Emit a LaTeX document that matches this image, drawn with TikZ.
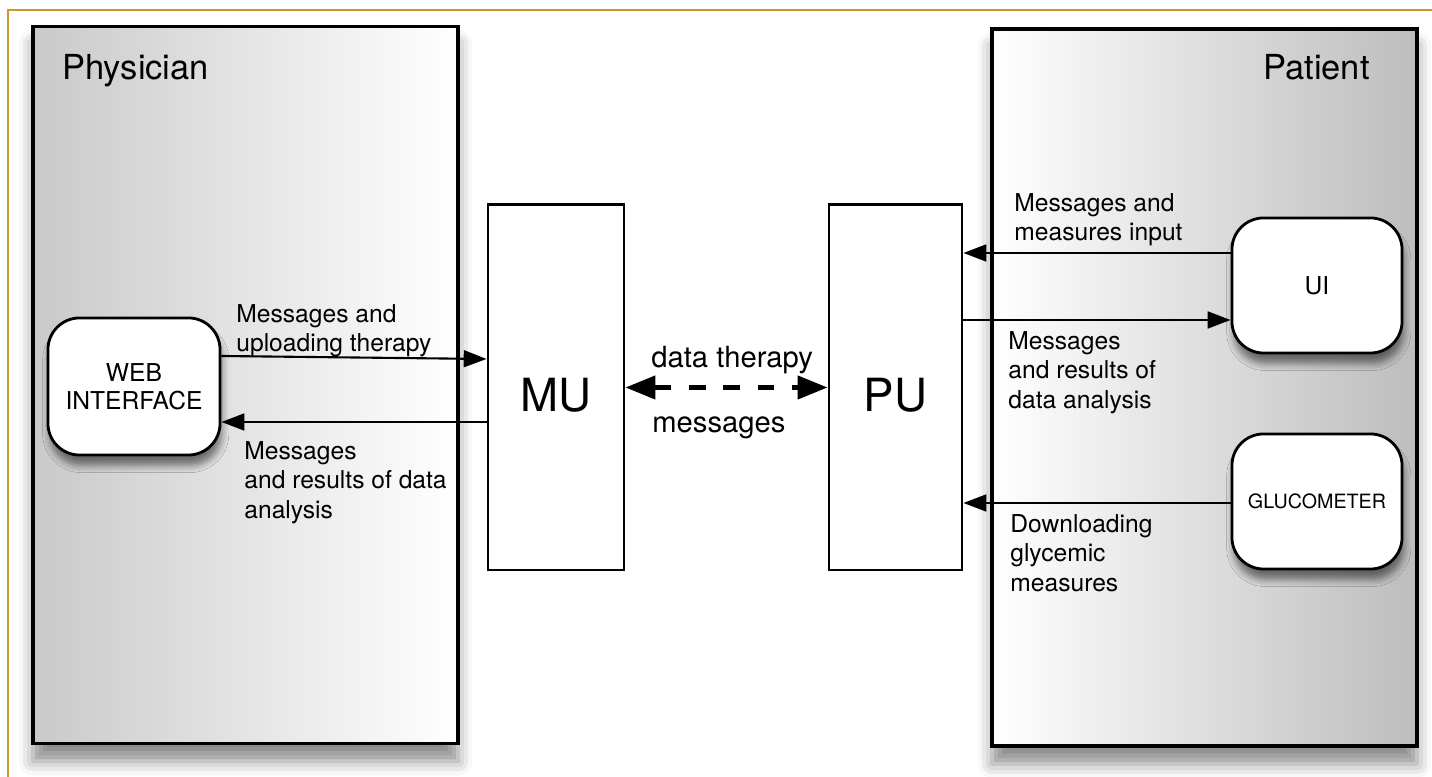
\documentclass[tikz,border=0pt]{standalone}
\usepackage{fontspec}
\setmainfont{TeX Gyre Heros}
\usetikzlibrary{arrows.meta,shadows.blur}
\definecolor{framegold}{RGB}{204,153,38}

\begin{document}
\begin{tikzpicture}[x=0.01cm, y=-0.01cm, thick,
    panel/.style={draw=black, line width=1pt, minimum width=4.25cm, minimum height=7.17cm,
        blur shadow={shadow xshift=0pt, shadow yshift=-5pt, shadow blur radius=4pt, shadow opacity=45}},
    unit/.style={draw=black, fill=white, line width=0.8pt, minimum height=3.65cm,
        font=\fontsize{13}{15}\selectfont, text height=0.47cm, text depth=0pt},
    device/.style={draw=black, fill=white, line width=0.8pt, rounded corners=9pt, align=center,
        minimum width=1.70cm, minimum height=1.35cm, font=\fontsize{7}{8}\selectfont,
        blur shadow={shadow xshift=0.5pt, shadow yshift=-3pt, shadow blur radius=2pt, shadow opacity=50}},
    flow/.style={line width=0.6pt, -{Triangle[length=6.5pt, width=4.8pt]}},
    link/.style={line width=1.3pt, dash pattern=on 4.8pt off 5pt,
        {Triangle[length=8.5pt, width=6.5pt]}-{Triangle[length=8.5pt, width=6.5pt]}},
    flowlbl/.style={anchor=north west, inner sep=0pt, align=left, font=\fontsize{7}{8.4}\selectfont},
    title/.style={inner sep=0pt, font=\fontsize{9.8}{12}\selectfont}]

    \useasboundingbox (0,0) rectangle (1432,777);

    % 1. Frame lines
    \draw[framegold, line width=0.7pt] (8,777) |- (1432,10);

    % 2. The two sides
    \node[panel, left color=black!21, right color=white] (physician) at (245.5,385) {};
    \node[panel, left color=white, right color=black!26] (patient) at (1204.5,387.5) {};
    \node[title, anchor=north west] (physicianlbl) at (61,53) {Physician};
    \node[title, anchor=north east] (patientlbl) at (1371,53) {Patient};

    % 3. Units and devices
    \node[unit, minimum width=1.36cm] (MU) at (556,387.5) {MU};
    \node[unit, minimum width=1.33cm] (PU) at (895.5,387.5) {PU};
    \node[device, minimum width=1.72cm, minimum height=1.37cm] (web) at (134,386.5) {WEB\\INTERFACE};
    \node[device] (UI) at (1317,285.5) {UI};
    \node[device, font=\fontsize{5.6}{7}\selectfont] (gluco) at (1317,501.5) {GLUCOMETER};

    % 4. Connectors
    \draw[flow] (web.east |- 0,356) -- (MU.west |- 0,359);
    \draw[flow] (MU.west |- 0,422) -- (web.east |- 0,422);
    \draw[link] (MU.east) -- (PU.west);
    \draw[flow] (UI.west |- 0,253) -- (PU.east |- 0,253);
    \draw[flow] (PU.east |- 0,320) -- (UI.west |- 0,320);
    \draw[flow] (gluco.west |- 0,503) -- (PU.east |- 0,503);

    % 5. Labels on the connectors
    \node[flowlbl] (uplbl) at (235,303) {Messages and\\uploading therapy};
    \node[flowlbl] (downlbl) at (243,440) {Messages\\and results of data\\analysis};
    \node[flowlbl, font=\fontsize{8.3}{10}\selectfont] (datalbl) at (650,345) {data therapy};
    \node[anchor=base west, inner sep=0pt, font=\fontsize{8.3}{10}\selectfont] (msglbl) at (651,433) {messages};
    \node[flowlbl] (inputlbl) at (1013,192) {Messages and\\measures input};
    \node[flowlbl] (resultlbl) at (1007,330) {Messages\\and results of\\data analysis};
    \node[flowlbl] (glylbl) at (1009,513) {Downloading\\glycemic\\measures};

\end{tikzpicture}
\end{document}
